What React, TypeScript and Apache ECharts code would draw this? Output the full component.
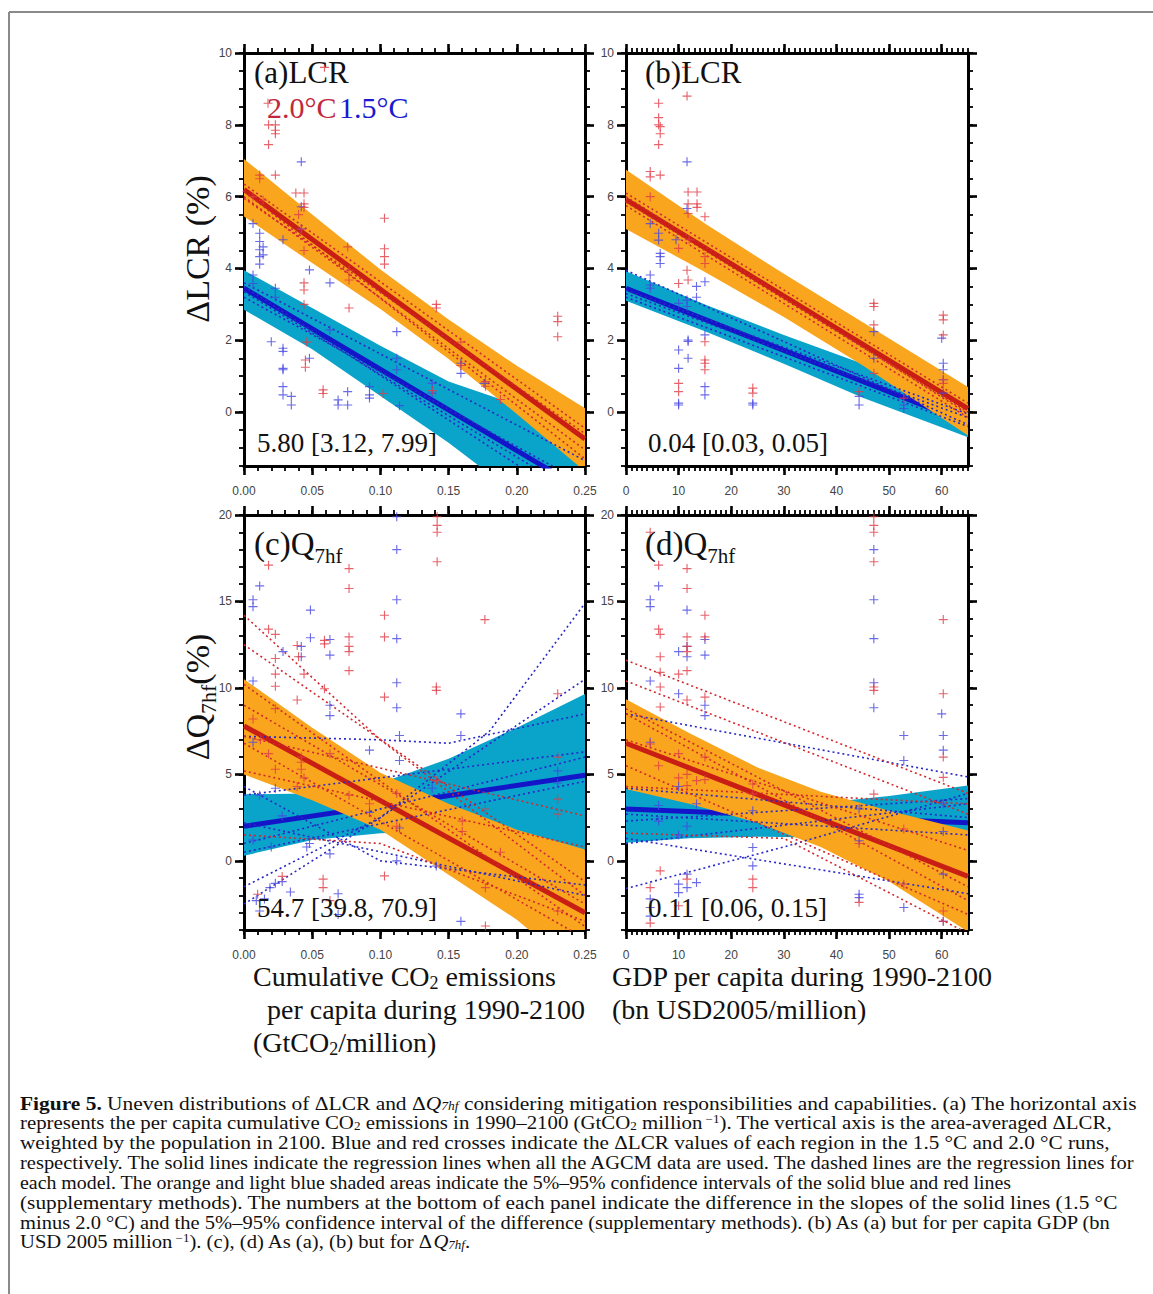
import React, { useEffect, useRef } from 'react';
import * as echarts from 'echarts';

const W = 1153;
const H = 1294;
const SERIF = "'Liberation Serif', 'Times New Roman', serif";
const SANS = "'Liberation Sans', Arial, sans-serif";

const ORANGE = '#F9A51E';
const CYAN = '#0AA3C9';
const RED_LINE = '#C81E14';
const BLUE_LINE = '#1414C8';
const RED_DOT = '#D2282D';
const BLUE_DOT = '#2828C8';
const RED_CROSS = 'rgba(225,60,70,0.8)';
const BLUE_CROSS = 'rgba(70,70,225,0.8)';

// ---------- tick labels ----------
const xTicksCO2 = [0, 0.05, 0.1, 0.15, 0.2, 0.25];
const xTicksGDP = [0, 10, 20, 30, 40, 50, 60];
const yTicksLCR = [0, 2, 4, 6, 8, 10];
const yTicksQ = [0, 5, 10, 15, 20];

// ---------- panel (a) ----------
const aRedReg = [[0, 6.2], [0.25, -0.75]];
const aBlueReg = [[0, 3.45], [0.25, -2.2]];
const aBandX = [0, 0.05, 0.1, 0.15, 0.2, 0.25];
const aRedHi = [7.05, 5.5, 3.97, 2.58, 1.29, 0.11];
const aRedLo = [5.45, 4.15, 2.87, 1.48, -0.05, -1.65];
const aBlueHi = [3.95, 2.9, 1.85, 0.85, 0.2, -0.6];
const aBlueLo = [2.85, 1.75, 0.45, -0.85, -2.3, -3.8];
const aRedDash = [
  [[0, 6.35], [0.25, -0.45]],
  [[0, 6.0], [0.25, -1.05]],
  [[0, 5.95], [0.25, -0.6]],
  [[0, 6.15], [0.25, -1.3]],
];
const aBlueDash = [
  [[0, 3.6], [0.25, -1.35]],
  [[0, 3.35], [0.25, -2.4]],
  [[0, 3.2], [0.25, -2.0]],
  [[0, 3.5], [0.25, -2.7]],
];
const aRedPts = [
  [0.0115, 6.6], [0.0115, 6.5], [0.0176, 8.6], [0.018, 8.0], [0.018, 7.45], [0.023, 8.0], [0.023, 7.85],
  [0.023, 7.75], [0.023, 6.6], [0.038, 6.1], [0.044, 6.1], [0.044, 5.8], [0.044, 5.7], [0.04, 5.5],
  [0.042, 5.1], [0.044, 4.5], [0.044, 3.6], [0.044, 3.4], [0.044, 3.0], [0.046, 1.95], [0.045, 1.45],
  [0.045, 1.25], [0.059, 9.6], [0.058, 0.62], [0.058, 0.52], [0.076, 4.6], [0.077, 3.95], [0.077, 3.68],
  [0.077, 2.9], [0.103, 5.4], [0.103, 4.55], [0.103, 4.33], [0.103, 4.12], [0.102, 0.52], [0.141, 3.0],
  [0.141, 2.9], [0.138, 0.6], [0.159, 1.3], [0.159, 1.95], [0.177, 0.85], [0.177, 0.72], [0.188, 0.35],
  [0.23, 2.67], [0.23, 2.52], [0.23, 2.1], [0.0066, 6.0], [0.014, 5.9],
];
const aBluePts = [
  [0.0066, 5.25], [0.0115, 4.98], [0.0115, 4.75], [0.0115, 4.52], [0.0115, 4.33], [0.0115, 4.12],
  [0.014, 4.6], [0.014, 4.38], [0.0066, 3.82], [0.0066, 3.58], [0.0286, 4.8], [0.042, 6.97], [0.042, 5.72],
  [0.042, 5.1], [0.048, 3.96], [0.063, 3.6], [0.023, 3.45], [0.023, 3.2], [0.02, 1.96], [0.0286, 1.78],
  [0.0286, 1.69], [0.0286, 1.22], [0.0286, 1.18], [0.0286, 0.71], [0.0286, 0.48], [0.0347, 0.44],
  [0.0347, 0.2], [0.048, 1.5], [0.063, 2.29], [0.069, 0.34], [0.069, 0.2], [0.076, 0.57], [0.076, 0.2],
  [0.092, 0.71], [0.092, 0.48], [0.092, 0.39], [0.112, 2.24], [0.112, 1.5], [0.112, 1.18], [0.114, 0.18],
  [0.138, 0.8], [0.138, 0.53], [0.159, 1.36], [0.159, 1.08], [0.176, 0.8],
];

// ---------- panel (b) ----------
const bRedReg = [[0, 5.92], [65, 0.1]];
const bBlueReg = [[0, 3.45], [65, -0.3]];
const bBandX = [0, 15, 30, 45, 65];
const bRedHi = [6.75, 5.25, 3.85, 2.5, 0.7];
const bRedLo = [5.1, 3.9, 2.65, 1.3, -0.65];
const bBlueHi = [3.92, 3.0, 2.15, 1.35, 0.2];
const bBlueLo = [3.1, 2.25, 1.35, 0.4, -0.7];
const bRedDash = [
  [[0, 6.1], [65, 0.25]],
  [[0, 5.75], [65, -0.15]],
  [[0, 5.85], [65, 0.0]],
  [[0, 6.0], [65, -0.05]],
];
const bBlueDash = [
  [[0, 3.95], [65, -0.35]],
  [[0, 3.3], [65, -0.15]],
  [[0, 3.2], [65, -0.4]],
  [[0, 3.4], [65, -0.05]],
];
const bRedPts = [
  [6.2, 8.6], [6.2, 8.2], [6.2, 8.0], [6.5, 7.95], [6.5, 7.75], [6.2, 7.45], [6.5, 6.6], [4.6, 6.7],
  [4.6, 6.55], [4.6, 6.0], [11.6, 8.8], [11.5, 9.6], [11.8, 6.13], [11.8, 5.8], [11.8, 5.53], [12.0, 4.8],
  [13.5, 6.13], [13.5, 5.8], [13.5, 5.7], [15.0, 5.44], [15.0, 4.33], [15.0, 4.14], [10.0, 3.58],
  [10.0, 4.56], [11.6, 3.95], [11.8, 3.68], [15.0, 1.96], [15.0, 1.45], [15.0, 1.36], [15.0, 1.18],
  [10.0, 0.8], [10.0, 0.57], [24.1, 0.67], [24.1, 0.53], [44.3, 0.57], [47.1, 3.03], [47.1, 2.94],
  [47.1, 2.43], [52.8, 0.39], [60.3, 2.7], [60.3, 2.57], [60.3, 2.15], [60.3, 0.9], [60.3, 0.8], [47.1, 1.08],
];
const bBluePts = [
  [4.6, 3.82], [4.6, 3.54], [4.6, 3.45], [6.2, 4.98], [6.2, 4.79], [6.5, 4.42], [6.5, 4.33], [6.5, 4.14],
  [4.6, 5.25], [10.0, 3.03], [10.0, 1.73], [10.0, 1.22], [10.0, 0.25], [10.0, 0.2], [11.6, 6.97],
  [11.6, 5.67], [11.6, 3.12], [11.6, 2.94], [11.8, 2.01], [11.8, 1.97], [11.8, 1.5], [13.4, 3.5],
  [13.4, 3.2], [15.0, 3.63], [15.0, 0.71], [15.0, 0.48], [15.0, 2.15], [24.1, 0.25], [24.1, 0.2],
  [44.3, 0.44], [44.3, 0.2], [47.1, 2.24], [47.1, 1.5], [52.8, 0.2], [52.8, 0.1], [60.0, 2.06],
  [60.3, 1.36], [60.3, 1.18], [60.3, 0.9], [60.3, 0.53], [9.5, 4.8],
];

// ---------- panel (c) ----------
const cRedReg = [[0, 7.8], [0.25, -3.0]];
const cBlueReg = [[0, 2.0], [0.25, 4.95]];
const cBandX = [0, 0.05, 0.1, 0.15, 0.2, 0.25];
const cRedHi = [10.5, 7.7, 5.1, 3.3, 1.8, 0.65];
const cRedLo = [5.0, 3.5, 1.8, -0.8, -3.4, -6.7];
const cBlueHi = [3.85, 3.9, 4.5, 5.9, 7.7, 9.65];
const cBlueLo = [0.3, 1.2, 1.6, 1.7, 1.3, 0.65];
const cRedDash = [
  [[0, 14.2], [0.1, 7.0], [0.25, -2.0]],
  [[0, 12.5], [0.25, -1.2]],
  [[0, 10.2], [0.25, -3.8]],
  [[0, 9.0], [0.25, -2.5]],
  [[0, 7.2], [0.25, 2.6]],
  [[0, 6.8], [0.25, -4.5]],
  [[0, 5.2], [0.25, 0.8]],
  [[0, 1.5], [0.1, 1.0], [0.25, -3.5]],
];
const cBlueDash = [
  [[0, -2.5], [0.1, 2.5], [0.18, 7.5], [0.25, 14.9]],
  [[0, -1.5], [0.1, 2.5], [0.25, 10.5]],
  [[0, 7.2], [0.1, 7.0], [0.15, 6.8], [0.25, 8.5]],
  [[0, 3.8], [0.25, 6.3]],
  [[0, 1.0], [0.25, 6.0]],
  [[0, 0.5], [0.25, 4.6]],
  [[0, 4.3], [0.1, 0.0], [0.25, -1.4]],
  [[0, 2.2], [0.25, -2.0]],
];
const cRedPts = [
  [0.018, 17.1], [0.1416, 19.9], [0.1416, 19.4], [0.1416, 19.0], [0.1416, 17.3], [0.077, 16.9],
  [0.077, 15.75], [0.077, 12.95], [0.077, 12.4], [0.077, 12.1], [0.077, 11.0], [0.103, 14.2],
  [0.103, 12.95], [0.103, 9.47], [0.141, 10.05], [0.141, 9.86], [0.1766, 13.95], [0.018, 13.4],
  [0.023, 13.1], [0.023, 11.7], [0.023, 10.8], [0.023, 10.1], [0.023, 8.8], [0.039, 12.45], [0.04, 11.8],
  [0.039, 9.3], [0.044, 10.8], [0.059, 12.75], [0.059, 12.55], [0.059, 9.95], [0.0066, 8.2], [0.23, 9.66],
  [0.23, 6.0], [0.23, 3.57], [0.23, 2.7], [0.23, -2.9], [0.16, 2.3], [0.16, 1.7], [0.177, 3.0],
  [0.177, -1.55], [0.141, 4.64], [0.058, -1.06], [0.058, -1.55], [0.103, -0.87], [0.01, -1.93],
  [0.177, -3.77], [0.012, 7.0], [0.018, 6.2], [0.023, 5.3], [0.042, 5.3], [0.044, 4.8], [0.042, 6.0],
  [0.042, 5.7], [0.039, 4.3], [0.063, 6.2], [0.077, 3.8], [0.092, 3.3], [0.112, 2.0], [0.112, 3.9],
  [0.188, 0.5], [0.063, -2.3], [0.028, -0.9],
];
const cBluePts = [
  [0.112, 19.9], [0.112, 18.0], [0.112, 15.1], [0.112, 12.85], [0.112, 10.3], [0.112, 8.85], [0.114, 7.25],
  [0.114, 5.8], [0.0115, 15.9], [0.0066, 15.1], [0.0066, 14.7], [0.0487, 14.5], [0.0487, 12.9],
  [0.063, 12.8], [0.063, 11.9], [0.063, 9.0], [0.063, 8.4], [0.0286, 12.1], [0.042, 12.4], [0.042, 11.8],
  [0.159, 8.5], [0.159, 7.25], [0.092, 6.4], [0.0066, 10.4], [0.0066, 6.86], [0.009, -2.3], [0.0115, -2.9],
  [0.015, -2.2], [0.019, -1.55], [0.023, -1.3], [0.028, -1.2], [0.034, -1.8], [0.046, 0.8], [0.069, -1.9],
  [0.069, -3.1], [0.112, 0.0], [0.114, 1.9], [0.159, -3.5], [0.0115, 3.8], [0.023, 4.2], [0.028, 2.6],
  [0.048, 1.0], [0.063, 0.4], [0.092, 2.8], [0.138, 4.2], [0.141, -0.3], [0.23, 4.5], [0.23, 5.2],
  [0.0066, 1.2], [0.02, 0.8],
];

// ---------- panel (d) ----------
const dRedReg = [[0, 6.8], [65, -0.9]];
const dBlueReg = [[0, 3.0], [65, 2.2]];
const dBandX = [0, 12, 25, 37, 50, 65];
const dRedHi = [9.35, 7.4, 5.4, 4.0, 2.9, 1.75];
const dRedLo = [4.15, 3.3, 2.2, 0.8, -1.2, -4.1];
const dBlueHi = [4.15, 3.5, 3.25, 3.35, 3.75, 4.35];
const dBlueLo = [1.05, 1.3, 1.4, 1.35, 0.9, 0.1];
const dRedDash = [
  [[0, 11.6], [65, 3.9]],
  [[0, 10.4], [65, 2.7]],
  [[0, 8.8], [65, -1.5]],
  [[0, 8.5], [65, -2.3]],
  [[0, 7.0], [65, 0.6]],
  [[0, 4.3], [65, 3.3]],
  [[0, 1.6], [30, 1.3], [65, -4.2]],
  [[0, 5.5], [65, -3.1]],
];
const dBlueDash = [
  [[0, 8.5], [65, 4.85]],
  [[0, -1.6], [30, 0.8], [65, 3.9]],
  [[0, 1.0], [65, 3.3]],
  [[0, 2.3], [65, 3.6]],
  [[0, 4.2], [65, 2.5]],
  [[0, 2.7], [65, 1.5]],
  [[0, 1.3], [65, -1.9]],
];
const dRedPts = [
  [4.6, 19.0], [6.2, 17.1], [6.2, 13.4], [6.5, 13.1], [6.5, 11.8], [6.5, 10.9], [6.5, 10.05], [6.5, 8.9],
  [10.0, 10.8], [11.6, 16.9], [11.6, 15.75], [11.6, 12.95], [11.6, 12.4], [11.6, 12.1], [11.6, 11.0],
  [11.6, 9.3], [15.0, 14.2], [15.0, 12.95], [15.0, 9.47], [47.1, 19.9], [47.1, 19.4], [47.1, 19.0],
  [47.1, 17.3], [47.1, 10.05], [47.1, 9.86], [60.3, 13.95], [60.3, 9.66], [60.3, 6.0], [60.3, 4.83],
  [60.3, -2.9], [52.8, 1.84], [52.8, -1.35], [44.3, -2.4], [24.1, -1.06], [24.1, -1.55], [6.5, -0.58],
  [4.6, -1.55], [4.6, -3.6], [10.0, -2.6], [11.6, -1.06], [4.6, 6.76], [6.2, 5.5], [10.0, 6.2],
  [10.0, 4.8], [11.6, 5.0], [11.6, 4.35], [13.4, 4.64], [15.0, 6.0], [15.0, 4.7], [24.1, 4.44],
  [24.1, 3.86], [47.1, 3.86], [60.3, -3.5], [44.3, 1.0],
];
const dBluePts = [
  [4.6, 15.1], [4.6, 14.7], [6.2, 15.9], [10.0, 12.1], [10.0, 9.66], [11.6, 14.5], [11.6, 12.4],
  [11.6, 11.8], [15.0, 12.8], [15.0, 11.9], [15.0, 9.0], [15.0, 8.4], [47.1, 18.0], [47.1, 15.1],
  [47.1, 12.85], [47.1, 10.3], [47.1, 8.85], [52.8, 7.25], [52.8, 5.8], [60.0, 8.5], [60.3, 7.25],
  [60.3, 6.4], [4.6, 10.4], [4.6, 6.86], [4.6, -2.2], [4.6, -2.7], [4.6, -3.2], [10.0, -1.35],
  [10.0, -1.84], [11.6, -0.77], [11.6, -1.55], [13.4, -1.26], [24.1, 0.77], [24.1, -0.29], [44.3, 1.16],
  [44.3, -1.93], [44.3, -2.13], [52.8, -2.7], [60.3, -0.77], [60.3, -3.5], [6.2, 3.2], [10.0, 4.3],
  [11.6, 2.0], [13.4, 3.3], [24.1, 2.9], [44.3, 3.0], [60.3, 3.3], [60.3, 1.7], [10.0, 1.5], [6.2, 2.3],
];

// ---------- caption ----------
const captionLines = [
  '{b|Figure 5.} Uneven distributions of ΔLCR and Δ{i|Q}{is|7hf} considering mitigation responsibilities and capabilities. (a) The horizontal axis',
  'represents the per capita cumulative CO{s|2} emissions in 1990–2100 (GtCO{s|2} million{p| −1}). The vertical axis is the area-averaged ΔLCR,',
  'weighted by the population in 2100. Blue and red crosses indicate the ΔLCR values of each region in the 1.5 °C and 2.0 °C runs,',
  'respectively. The solid lines indicate the regression lines when all the AGCM data are used. The dashed lines are the regression lines for',
  'each model. The orange and light blue shaded areas indicate the 5%–95% confidence intervals of the solid blue and red lines',
  '(supplementary methods). The numbers at the bottom of each panel indicate the difference in the slopes of the solid lines (1.5 °C',
  'minus 2.0 °C) and the 5%–95% confidence interval of the difference (supplementary methods). (b) As (a) but for per capita GDP (bn',
  'USD 2005 million{p| −1}). (c), (d) As (a), (b) but for Δ{i|Q}{is|7hf}.',
];
const captionRight = [1137, 1112, 1110, 1136, 1012, 1118, 1112, 470];

const PLUS = 'path://M0,3.5H3.5V0H4.5V3.5H8V4.5H4.5V8H3.5V4.5H0Z';

const grids = [
  { left: 244, top: 53, width: 341, height: 413 },
  { left: 626, top: 53, width: 342, height: 413 },
  { left: 244, top: 515, width: 341, height: 415 },
  { left: 626, top: 515, width: 342, height: 415 },
];

function fontOf(st: any) {
  return `${st.fontStyle || 'normal'} ${st.fontWeight || 'normal'} ${st.fontSize}px ${st.fontFamily}`;
}
function richWidth(str: string, base: any, rich: any) {
  const ctx = document.createElement('canvas').getContext('2d') as CanvasRenderingContext2D;
  const re = /\{(\w+)\|([^}]*)\}/g;
  let w = 0;
  let last = 0;
  let m: any;
  while ((m = re.exec(str))) {
    if (m.index > last) {
      ctx.font = fontOf(base);
      w += ctx.measureText(str.slice(last, m.index)).width;
    }
    const st = { ...base, ...rich[m[1]] };
    ctx.font = fontOf(st);
    w += ctx.measureText(m[2]).width;
    last = re.lastIndex;
  }
  if (last < str.length) {
    ctx.font = fontOf(base);
    w += ctx.measureText(str.slice(last)).width;
  }
  return w;
}

function axesFor(gi: number, x: any, y: any) {
  const xAxes: any[] = [];
  const yAxes: any[] = [];
  const majorTick = (vals: number[], len: number) => ({
    show: true, inside: false, length: len, customValues: vals,
    lineStyle: { color: '#000', width: 2.6 },
  });
  const minorTick = { show: true, inside: false, length: 5, lineStyle: { color: '#000', width: 1.8 } };
  const lineOn = { show: true, onZero: false, lineStyle: { color: '#000', width: 3 } };
  const lineOff = { show: false, onZero: false };
  const lbl = (vals: number[], fmt: any, margin: number) => ({
    show: true, customValues: vals, formatter: fmt, margin,
    fontSize: 12, color: '#444', fontFamily: SANS,
  });
  for (const pos of ['bottom', 'top']) {
    xAxes.push({
      type: 'value', gridIndex: gi, position: pos, min: x.min, max: x.max,
      axisLine: lineOn, axisTick: majorTick(x.majors, 9),
      axisLabel: pos === 'bottom' ? lbl(x.majors, x.fmt, 19) : { show: false },
      splitLine: { show: false },
    });
    xAxes.push({
      type: 'value', gridIndex: gi, position: pos, min: x.min, max: x.max, interval: x.minor,
      axisLine: lineOff, axisTick: minorTick, axisLabel: { show: false }, splitLine: { show: false },
    });
  }
  for (const pos of ['left', 'right']) {
    yAxes.push({
      type: 'value', gridIndex: gi, position: pos, min: y.min, max: y.max,
      axisLine: lineOn, axisTick: majorTick(y.majors, 9),
      axisLabel: pos === 'left' ? lbl(y.majors, (v: number) => String(v), 12) : { show: false },
      splitLine: { show: false },
    });
    yAxes.push({
      type: 'value', gridIndex: gi, position: pos, min: y.min, max: y.max, interval: y.minor,
      axisLine: lineOff, axisTick: minorTick, axisLabel: { show: false }, splitLine: { show: false },
    });
  }
  return { xAxes, yAxes };
}

function bandSeries(gi: number, xs: number[], hi: number[], lo: number[], color: string, z: number) {
  return {
    type: 'custom', xAxisIndex: 4 * gi, yAxisIndex: 4 * gi, z, clip: true, silent: true,
    data: [[xs[0], lo[0]]],
    renderItem: (_p: any, api: any) => {
      const up = xs.map((xv, i) => api.coord([xv, hi[i]]));
      const dn = xs.map((xv, i) => api.coord([xv, lo[i]])).reverse();
      return { type: 'polygon', shape: { points: up.concat(dn) }, style: { fill: color } };
    },
  };
}
function lineSeries(gi: number, data: number[][], color: string, width: number, dashed: boolean, z: number) {
  return {
    type: 'line', xAxisIndex: 4 * gi, yAxisIndex: 4 * gi, data, z, symbol: 'none', silent: true,
    lineStyle: { color, width, type: dashed ? [2, 3] : 'solid', cap: 'butt' },
    clip: true,
  };
}
function scatterSeries(gi: number, data: number[][], color: string) {
  return {
    type: 'scatter', xAxisIndex: 4 * gi, yAxisIndex: 4 * gi, data, z: 6, silent: true,
    symbol: PLUS, symbolSize: 9, itemStyle: { color, opacity: 1 },
  };
}

function panelSeries(gi: number, p: any) {
  const s: any[] = [];
  s.push(bandSeries(gi, p.bx, p.bHi, p.bLo, CYAN, 1));
  s.push(lineSeries(gi, p.blueReg, BLUE_LINE, 5, false, 2));
  s.push(bandSeries(gi, p.bx, p.rHi, p.rLo, ORANGE, 3));
  s.push(lineSeries(gi, p.redReg, RED_LINE, 5, false, 4));
  p.blueDash.forEach((d: number[][]) => s.push(lineSeries(gi, d, BLUE_DOT, 1.6, true, 5)));
  p.redDash.forEach((d: number[][]) => s.push(lineSeries(gi, d, RED_DOT, 1.6, true, 5)));
  s.push(scatterSeries(gi, p.bluePts, BLUE_CROSS));
  s.push(scatterSeries(gi, p.redPts, RED_CROSS));
  return s;
}

function txt(x: number, y: number, text: string, fontSize: number, extra: any = {}, el: any = {}) {
  return {
    type: 'text', x, y, z: 100, silent: true, ...el,
    style: {
      text, fontSize, fontFamily: SERIF, fill: '#111',
      align: 'left', textAlign: 'left', verticalAlign: 'middle', textVerticalAlign: 'middle',
      ...extra,
    },
  };
}

export default function App() {
  const ref = useRef<HTMLDivElement>(null);
  useEffect(() => {
    if (!ref.current) return;
    const chart = echarts.init(ref.current, undefined, { renderer: 'svg', width: W, height: H });

    const co2 = { min: 0, max: 0.25, majors: xTicksCO2, minor: 0.01, fmt: (v: number) => v.toFixed(2) };
    const gdp = { min: 0, max: 65, majors: xTicksGDP, minor: 1, fmt: (v: number) => String(v) };
    const lcr = { min: -1.5, max: 10, majors: yTicksLCR, minor: 0.5 };
    const q = { min: -4, max: 20, majors: yTicksQ, minor: 1 };

    const axSets = [axesFor(0, co2, lcr), axesFor(1, gdp, lcr), axesFor(2, co2, q), axesFor(3, gdp, q)];
    const xAxis = axSets.flatMap((a) => a.xAxes);
    const yAxis = axSets.flatMap((a) => a.yAxes);

    const panels = [
      { bx: aBandX, bHi: aBlueHi, bLo: aBlueLo, rHi: aRedHi, rLo: aRedLo, blueReg: aBlueReg, redReg: aRedReg,
        blueDash: aBlueDash, redDash: aRedDash, bluePts: aBluePts, redPts: aRedPts },
      { bx: bBandX, bHi: bBlueHi, bLo: bBlueLo, rHi: bRedHi, rLo: bRedLo, blueReg: bBlueReg, redReg: bRedReg,
        blueDash: bBlueDash, redDash: bRedDash, bluePts: bBluePts, redPts: bRedPts },
      { bx: cBandX, bHi: cBlueHi, bLo: cBlueLo, rHi: cRedHi, rLo: cRedLo, blueReg: cBlueReg, redReg: cRedReg,
        blueDash: cBlueDash, redDash: cRedDash, bluePts: cBluePts, redPts: cRedPts },
      { bx: dBandX, bHi: dBlueHi, bLo: dBlueLo, rHi: dRedHi, rLo: dRedLo, blueReg: dBlueReg, redReg: dRedReg,
        blueDash: dBlueDash, redDash: dRedDash, bluePts: dBluePts, redPts: dRedPts },
    ];
    const series = panels.flatMap((p, i) => panelSeries(i, p));

    const subRich = (size: number, lh: number) => ({
      m: { fontSize: size, fontFamily: SERIF, fill: '#111', lineHeight: lh },
      s: { fontSize: Math.round(size * 0.64), fontFamily: SERIF, fill: '#111', lineHeight: Math.round(size * 0.64), verticalAlign: 'bottom' },
    });

    const capBase = { fontSize: 19, fontFamily: SERIF };
    const capRich = {
      b: { fontSize: 19, fontFamily: SERIF, fontWeight: 'bold', fill: '#111', lineHeight: 19 },
      i: { fontSize: 19, fontFamily: SERIF, fontStyle: 'italic', fill: '#111', lineHeight: 19 },
      is: { fontSize: 12, fontFamily: SERIF, fontStyle: 'italic', fill: '#111', lineHeight: 10, verticalAlign: 'bottom' },
      s: { fontSize: 12, fontFamily: SERIF, fill: '#111', lineHeight: 10, verticalAlign: 'bottom' },
      p: { fontSize: 12, fontFamily: SERIF, fill: '#111', lineHeight: 10, verticalAlign: 'top' },
    };
    const capLeft = 20;
    const caption = captionLines.map((line, i) => {
      const w = richWidth(line, capBase, capRich);
      const target = captionRight[i] - capLeft;
      return txt(capLeft, 1103 + i * 19.8, line, 19, { rich: capRich, lineHeight: 19 }, { scaleX: target / w });
    });

    const graphic = [
      { type: 'line', z: 100, silent: true, shape: { x1: 9, y1: 12, x2: W, y2: 12 }, style: { stroke: '#8a8a8a', lineWidth: 2 } },
      { type: 'line', z: 100, silent: true, shape: { x1: 9, y1: 12, x2: 9, y2: H }, style: { stroke: '#8a8a8a', lineWidth: 2 } },
      txt(254, 72, '(a)LCR', 31, { lineHeight: 26 }),
      txt(267, 107, '{r|2.0°C}{g| }{b|1.5°C}', 30, {
        lineHeight: 24,
        rich: {
          r: { fontSize: 30, fontFamily: SERIF, fill: '#C0283C', lineHeight: 24 },
          g: { fontSize: 10, fontFamily: SERIF, lineHeight: 24 },
          b: { fontSize: 30, fontFamily: SERIF, fill: '#1A1AD0', lineHeight: 24 },
        },
      }),
      txt(645, 72, '(b)LCR', 31, { lineHeight: 26 }),
      txt(254, 544, '{m|(c)Q}{s|7hf}', 33, { rich: subRich(33, 44), lineHeight: 44 }),
      txt(645, 544, '{m|(d)Q}{s|7hf}', 33, { rich: subRich(33, 44), lineHeight: 44 }),
      txt(257, 443, '5.80 [3.12, 7.99]', 27),
      txt(648, 443, '0.04 [0.03, 0.05]', 27),
      txt(257, 908, '54.7 [39.8, 70.9]', 27),
      txt(648, 908, '0.11 [0.06, 0.15]', 27),
      txt(197, 249, 'ΔLCR (%)', 34, { align: 'center', textAlign: 'center' }, { rotation: Math.PI / 2 }),
      txt(197, 697, '{m|ΔQ}{s|7hf}{m|(%)}', 34,
        { align: 'center', textAlign: 'center', rich: subRich(34, 44), lineHeight: 44 }, { rotation: Math.PI / 2 }),
      txt(253, 976, '{m|Cumulative CO}{s|2}{m| emissions}', 28, { rich: subRich(28, 32), lineHeight: 32 }),
      txt(260, 1009, ' per capita during 1990-2100', 28, { lineHeight: 30 }),
      txt(253, 1042, '{m|(GtCO}{s|2}{m|/million)}', 28, { rich: subRich(28, 32), lineHeight: 32 }),
      txt(612, 976, 'GDP per capita during 1990-2100', 28, { lineHeight: 30 }),
      txt(612, 1009, '(bn USD2005/million)', 28, { lineHeight: 30 }),
      ...caption,
    ];

    chart.setOption({
      animation: false,
      backgroundColor: '#ffffff',
      grid: grids.map((g) => ({ ...g, containLabel: false })),
      xAxis,
      yAxis,
      series,
      graphic: { elements: graphic },
    });
    return () => chart.dispose();
  }, []);
  return (
    <div
      ref={ref}
      style={{ position: 'absolute', left: 0, top: 0, width: W, height: H, background: '#fff' }}
    />
  );
}
